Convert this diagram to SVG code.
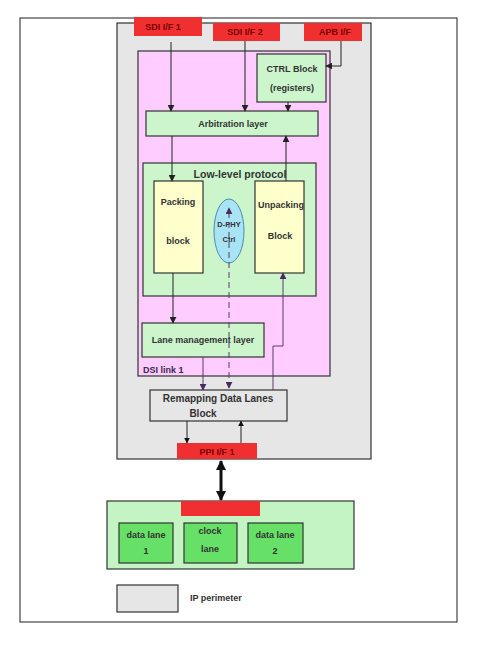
<svg xmlns="http://www.w3.org/2000/svg" width="478" height="645" viewBox="0 0 478 645">
<defs>
<style>
text{font-family:"Liberation Sans",Arial,sans-serif;font-weight:bold;font-size:9px;fill:#333;text-anchor:middle;dominant-baseline:central}
.red{fill:#f03030;stroke:none}
.redt{fill:#7a0000}
.box{stroke:#333;stroke-width:1.2}
.ln{stroke:#222;stroke-width:1;fill:none}
.pl{stroke:#5a3a6a;stroke-width:1;fill:none}
.thick{stroke:#111;stroke-width:3;fill:none}
</style>
<marker id="ah" viewBox="0 0 10 10" refX="9" refY="5" markerWidth="7" markerHeight="7" orient="auto-start-reverse"><path d="M0,0 L10,5 L0,10 z" fill="#222"/></marker>
<marker id="ahp" viewBox="0 0 10 10" refX="9" refY="5" markerWidth="7" markerHeight="7" orient="auto-start-reverse"><path d="M0,0 L10,5 L0,10 z" fill="#4a2a5a"/></marker>
<marker id="ahm" viewBox="0 0 10 10" refX="9" refY="5" markerWidth="6" markerHeight="6" orient="auto-start-reverse"><path d="M0,0 L10,5 L0,10 z" fill="#111"/></marker>
<marker id="ahb" viewBox="0 0 10 10" refX="9" refY="5" markerWidth="3.5" markerHeight="3.5" orient="auto-start-reverse"><path d="M0,0 L10,5 L0,10 z" fill="#111"/></marker>
</defs>
<rect x="0" y="0" width="478" height="645" fill="#fff"/>
<g id="frame"><rect x="20" y="18" width="437" height="604" fill="#fff" stroke="#444" stroke-width="1.2"/></g>
<g id="ip"><rect class="box" x="117" y="23" width="254" height="436" fill="#e6e6e6"/></g>
<g id="dsi"><rect class="box" x="138" y="51" width="192" height="325" fill="#ffccff"/><text x="143" y="370" style="text-anchor:start;fill:#3a2a4a">DSI link 1</text></g>
<g id="sdi1"><rect class="red" x="134" y="17" width="68" height="19"/><text class="redt" x="163" y="27">SDI I/F 1</text></g>
<g id="sdi2"><rect class="red" x="213" y="23" width="67" height="18"/><text class="redt" x="245" y="32">SDI I/F 2</text></g>
<g id="apb"><rect class="red" x="304" y="23" width="58" height="18"/><text class="redt" x="335" y="32">APB I/F</text></g>
<g id="ctrl"><rect class="box" x="257" y="54" width="69" height="48" fill="#ccf5cc"/><text x="292" y="69">CTRL Block</text><text x="292" y="88">(registers)</text></g>
<g id="arb"><rect class="box" x="146" y="111" width="172" height="25" fill="#ccf5cc"/><text x="233" y="124">Arbitration layer</text></g>
<g id="llp"><rect class="box" x="143" y="163" width="173" height="133" fill="#ccf5cc"/><text x="240" y="174" style="font-size:10.5px">Low-level protocol</text></g>
<g id="packing"><rect class="box" x="154" y="181" width="49" height="92" fill="#ffffcc"/><text x="178" y="202">Packing</text><text x="178" y="241">block</text></g>
<g id="unpacking"><rect class="box" x="255" y="181" width="49" height="92" fill="#ffffcc"/><text x="281" y="205">Unpacking</text><text x="280" y="236">Block</text></g>
<g id="dphy"><ellipse cx="229" cy="231" rx="15" ry="32" fill="#a8e4f4" stroke="#4a8ab0" stroke-width="1"/><text x="229" y="224" style="font-size:7.5px">D-PHY</text><text x="229" y="239" style="font-size:7.5px">Ctrl</text></g>
<g id="lane"><rect class="box" x="142" y="323" width="122" height="34" fill="#ccf5cc"/><text x="203" y="340">Lane management layer</text></g>
<g id="remap"><rect class="box" x="150" y="390" width="137" height="31" fill="#e6e6e6"/><text x="218" y="398" style="font-size:10px">Remapping Data Lanes</text><text x="203" y="413" style="font-size:10px">Block</text></g>
<g id="ppi"><rect class="red" x="177" y="443" width="80" height="16"/><text class="redt" x="217" y="452">PPI I/F 1</text></g>
<g id="phy"><rect class="box" x="107" y="501" width="247" height="68" fill="#c4f4c4"/><rect class="red" x="181" y="501" width="79" height="15"/></g>
<g id="dl1"><rect class="box" x="119" y="523" width="54" height="40" fill="#66e066"/><text x="146" y="535">data lane</text><text x="146" y="551">1</text></g>
<g id="clk"><rect class="box" x="184" y="523" width="53" height="40" fill="#66e066"/><text x="210" y="531">clock</text><text x="210" y="549">lane</text></g>
<g id="dl2"><rect class="box" x="248" y="523" width="55" height="40" fill="#66e066"/><text x="275" y="535">data lane</text><text x="275" y="551">2</text></g>
<g id="legend"><rect class="box" x="117" y="585" width="61" height="27" fill="#e6e6e6"/><text x="190" y="598" style="text-anchor:start">IP perimeter</text></g>
<g id="connectors">
<line class="ln" x1="171" y1="42" x2="171" y2="111" marker-end="url(#ah)"/>
<line class="ln" x1="245" y1="41" x2="245" y2="111" marker-end="url(#ah)"/>
<polyline class="ln" points="341,41 341,66 326,66" marker-end="url(#ah)"/>
<line class="ln" x1="288" y1="102" x2="288" y2="111" marker-end="url(#ah)"/>
<line class="ln" x1="172" y1="136" x2="172" y2="181" marker-end="url(#ah)"/>
<line class="ln" x1="286" y1="181" x2="286" y2="136" marker-end="url(#ah)"/>
<line class="ln" x1="173" y1="273" x2="173" y2="323" marker-end="url(#ah)"/>
<polyline class="pl" points="273,390 273,346 283,346 283,273" marker-end="url(#ahp)"/>
<line class="pl" x1="203" y1="357" x2="203" y2="390" marker-end="url(#ahp)"/>
<line class="pl" x1="229" y1="388" x2="229" y2="208" stroke-dasharray="6,4" marker-start="url(#ahp)" marker-end="url(#ahp)"/>
<line class="ln" x1="187" y1="421" x2="187" y2="443" stroke-width="1.5" marker-end="url(#ahm)"/>
<line class="ln" x1="241" y1="443" x2="241" y2="421" stroke-width="1.5" marker-end="url(#ahm)"/>
<line class="thick" x1="221" y1="461" x2="221" y2="500" marker-start="url(#ahb)" marker-end="url(#ahb)"/>
</g>
</svg>
